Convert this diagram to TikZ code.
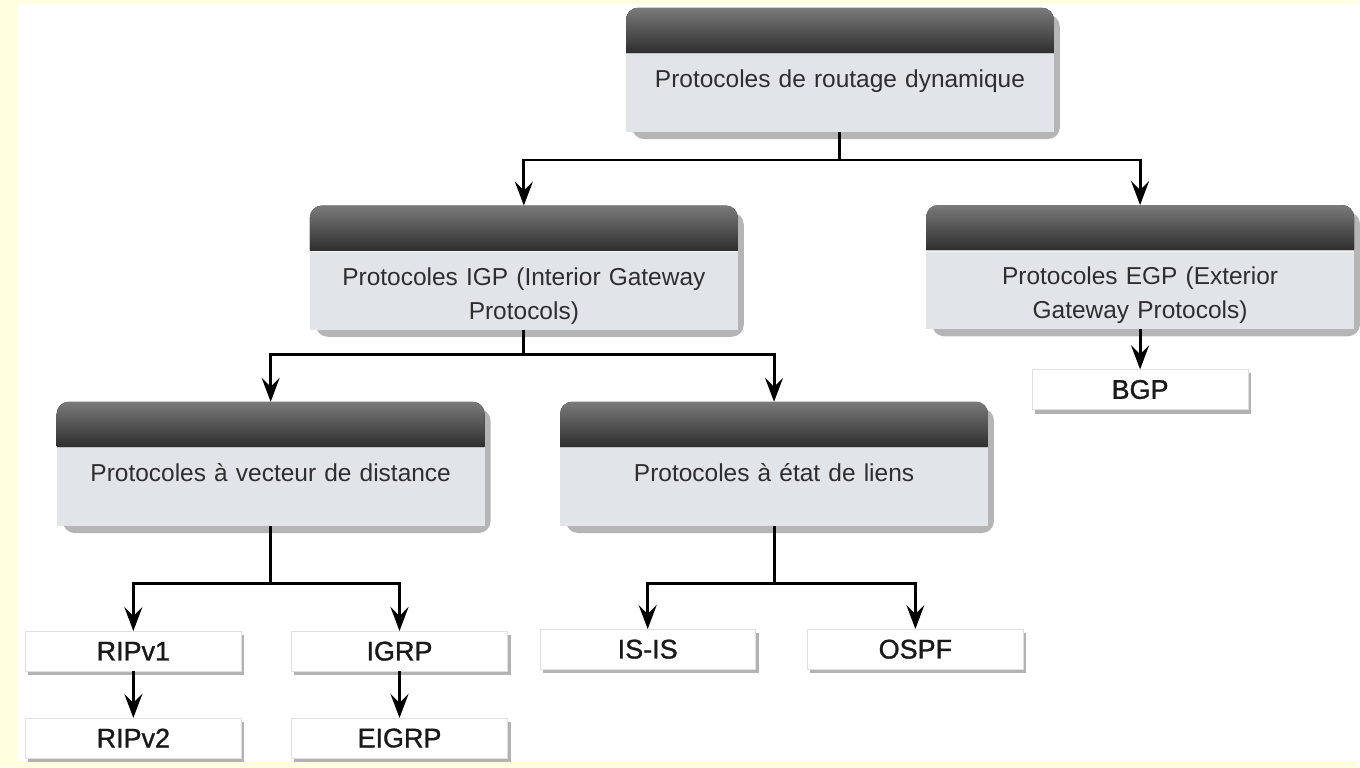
\documentclass[tikz,border=0pt]{standalone}
\usepackage{fontspec}
\setmainfont{Liberation Sans}
\newfontfamily\leaffont[FakeBold=1.2]{Liberation Sans}
\usetikzlibrary{arrows.meta,backgrounds,positioning}

\definecolor{pagebg}{HTML}{FFFFE0}
\definecolor{hdrtop}{HTML}{7A7A7A}
\definecolor{hdrbot}{HTML}{1C1C1C}
\definecolor{bodygray}{HTML}{E1E4E9}
\definecolor{shadowgray}{HTML}{7A7A7A}
\definecolor{txtgray}{HTML}{2E2E2E}

\begin{document}
\begin{tikzpicture}[x=1pt,y=-1pt,
  catbox/.style={minimum width=428pt,minimum height=124pt,inner sep=0pt},
  cattxt/.style={font=\fontsize{24.5}{34}\selectfont,text=txtgray,align=center,text width=420pt,anchor=north,inner sep=0pt},
  leaf/.style={minimum width=216pt,minimum height=40pt,inner sep=0pt,fill=white,draw=black!12,font=\leaffont\fontsize{27}{30}\selectfont,text=black!90},
  link/.style={line width=3pt},
  arr/.style={link,-{Stealth[length=24pt,width=18pt,inset=9pt]}}]
% categories
\node[catbox] (routage) at (841,70) {};
\node[catbox] (igp) at (524.5,268) {};
\node[catbox] (egp) at (1141.5,267.5) {};
\node[catbox] (dv) at (271,464.5) {};
\node[catbox] (ls) at (775,464.5) {};
\node[cattxt,below=62pt of routage.north] (routage-t) {Protocoles de routage dynamique};
\node[cattxt,below=62pt of igp.north] (igp-t) {Protocoles IGP (Interior Gateway\\Protocols)};
\node[cattxt,below=62pt of egp.north] (egp-t) {Protocoles EGP (Exterior\\Gateway Protocols)};
\node[cattxt,below=62pt of dv.north] (dv-t) {Protocoles à vecteur de distance};
\node[cattxt,below=62pt of ls.north] (ls-t) {Protocoles à état de liens};
% protocols
\node[leaf] (bgp) at (1141.5,390) {BGP};
\node[leaf] (ripa) at (133.5,652) {RIPv1};
\node[leaf] (ripb) at (133.5,739) {RIPv2};
\node[leaf] (igrp) at (400,652) {IGRP};
\node[leaf] (eigrp) at (400,739) {EIGRP};
\node[leaf] (isis) at (648.5,650) {IS-IS};
\node[leaf] (ospf) at (916.5,650) {OSPF};
% connectors
\draw[arr] (routage.south) -- ++(0,28) -| (igp.north);
\draw[arr] (routage.south) -- ++(0,28) -| (egp.north);
\draw[arr] (igp.south) -- ++(0,25) -| (dv.north);
\draw[arr] (igp.south) -- ++(0,25) -| (ls.north);
\draw[arr] (egp.south) -- (bgp.north);
\draw[arr] (dv.south) -- ++(0,58) -| (ripa.north);
\draw[arr] (dv.south) -- ++(0,58) -| (igrp.north);
\draw[arr] (ls.south) -- ++(0,58) -| (isis.north);
\draw[arr] (ls.south) -- ++(0,58) -| (ospf.north);
\draw[arr] (ripa.south) -- (ripb.north);
\draw[arr] (igrp.south) -- (eigrp.north);
\begin{scope}[on background layer]
\fill[pagebg] (0,0) rectangle (1360,768);
\fill[white] (17,4) rectangle (1360,762);
\foreach \b in {routage,igp,egp,dv,ls} {
   \fill[shadowgray,opacity=0.55,rounded corners=12pt] ([xshift=6pt,yshift=-7pt]\b.south west) rectangle ([xshift=6pt,yshift=-7pt]\b.north east);
   \fill[top color=hdrtop,bottom color=hdrbot,rounded corners=12pt] (\b.north west) rectangle ([yshift=-56pt]\b.north east);
   \fill[bodygray] (\b.south west) rectangle ([yshift=-46pt]\b.north east);
   \draw[white,line width=1.2pt,opacity=0.7] ([yshift=-46pt]\b.north west) -- ([yshift=-46pt]\b.north east);
}
\foreach \l in {bgp,ripa,ripb,igrp,eigrp,isis,ospf} {
   \fill[black!30] ([xshift=3pt,yshift=-4pt]\l.south west) rectangle ([xshift=3pt,yshift=-4pt]\l.north east);
}
\end{scope}
\end{tikzpicture}
\end{document}
